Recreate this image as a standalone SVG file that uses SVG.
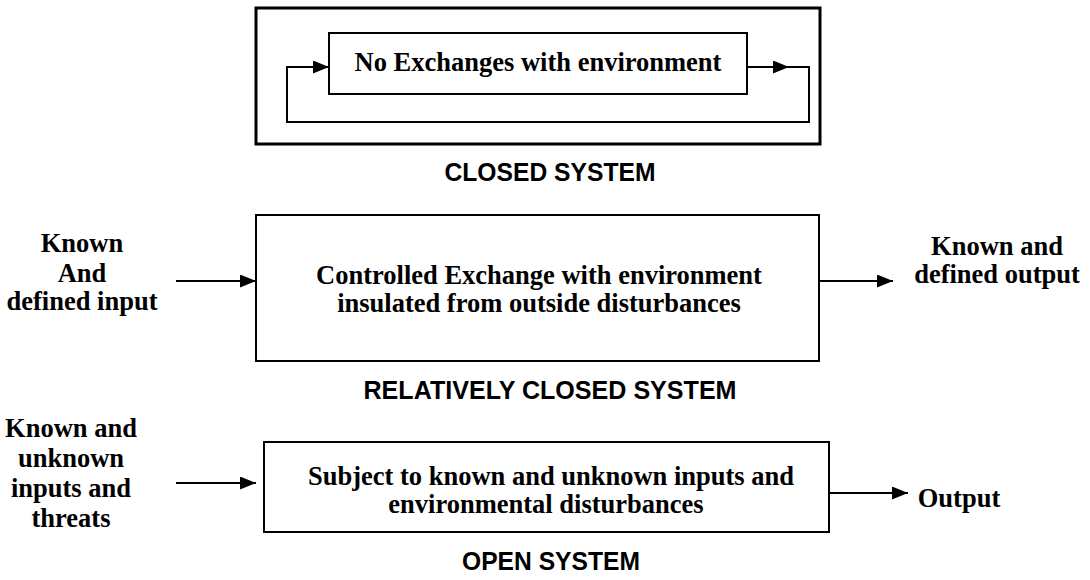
<svg xmlns="http://www.w3.org/2000/svg" width="1090" height="580" viewBox="0 0 1090 580">
  <style>
    .box { fill: #fff; stroke: #000; stroke-width: 2; }
    .thick { fill: none; stroke: #000; stroke-width: 3; }
    .line { fill: none; stroke: #000; stroke-width: 2; }
    .lbl { font-family: "Liberation Serif", "Times New Roman", serif; font-weight: bold; font-size: 26.5px; fill: #000; text-anchor: middle; }
    .ttl { font-family: "Liberation Sans", Arial, sans-serif; font-weight: bold; font-size: 26px; fill: #000; text-anchor: middle; }
  </style>
  <defs>
    <marker id="arr" markerWidth="16" markerHeight="13" refX="16" refY="6.5" orient="auto" markerUnits="userSpaceOnUse">
      <path d="M0,0 L16,6.5 L0,13 Z" fill="#000"/>
    </marker>
  </defs>
  <rect width="1090" height="580" fill="#fff"/>

  <!-- closed system -->
  <g id="closed-outer">
    <rect class="thick" x="256" y="8" width="564" height="136"/>
  </g>
  <g id="closed-inner">
    <rect class="box" x="329" y="33" width="418" height="61"/>
    <text class="lbl" x="538" y="71">No Exchanges with environment</text>
  </g>
  <text id="closed-title" class="ttl" x="550" y="181" textLength="211" lengthAdjust="spacingAndGlyphs">CLOSED SYSTEM</text>

  <!-- relatively closed system -->
  <g id="rel-input">
    <text class="lbl" x="82" y="252">Known</text>
    <text class="lbl" x="82" y="282">And</text>
    <text class="lbl" x="82" y="310">defined input</text>
  </g>
  <g id="rel-box">
    <rect class="box" x="256" y="215" width="563" height="146"/>
    <text class="lbl" x="539" y="284">Controlled Exchange with environment</text>
    <text class="lbl" x="539" y="312">insulated from outside disturbances</text>
  </g>
  <g id="rel-output">
    <text class="lbl" x="997" y="255">Known and</text>
    <text class="lbl" x="997" y="283">defined output</text>
  </g>
  <text id="rel-title" class="ttl" x="550" y="399" textLength="373" lengthAdjust="spacingAndGlyphs">RELATIVELY CLOSED SYSTEM</text>

  <!-- open system -->
  <g id="open-input">
    <text class="lbl" x="71" y="437">Known and</text>
    <text class="lbl" x="71" y="467">unknown</text>
    <text class="lbl" x="71" y="497">inputs and</text>
    <text class="lbl" x="71" y="527">threats</text>
  </g>
  <g id="open-box">
    <rect class="box" x="264" y="442" width="565" height="90"/>
    <text class="lbl" x="551" y="485">Subject to known and unknown inputs and</text>
    <text class="lbl" x="546" y="513">environmental disturbances</text>
  </g>
  <text id="open-output" class="lbl" x="959" y="507">Output</text>
  <text id="open-title" class="ttl" x="551" y="570" textLength="178" lengthAdjust="spacingAndGlyphs">OPEN SYSTEM</text>

  <!-- connectors -->
  <g id="connectors">
    <path class="line" d="M747,67 H789" marker-end="url(#arr)"/>
    <path class="line" d="M747,67 H809 V122 H287 V67 H329" marker-end="url(#arr)"/>
    <path class="line" d="M176,281 H256" marker-end="url(#arr)"/>
    <path class="line" d="M819,281 H893" marker-end="url(#arr)"/>
    <path class="line" d="M176,483 H256" marker-end="url(#arr)"/>
    <path class="line" d="M829,493 H908" marker-end="url(#arr)"/>
  </g>
</svg>
